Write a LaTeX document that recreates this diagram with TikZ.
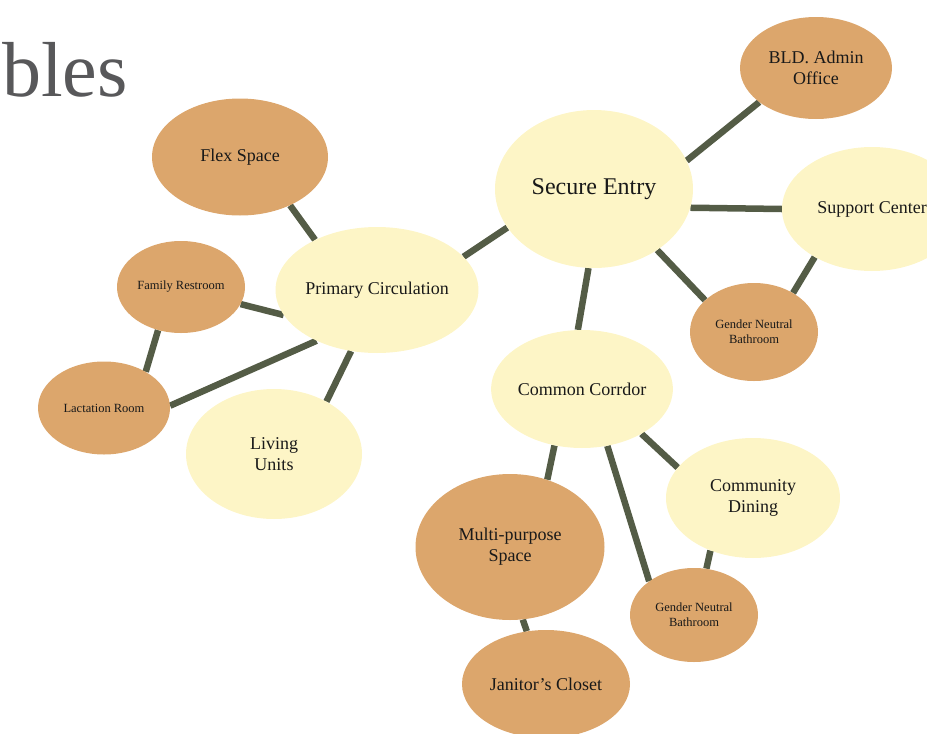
\documentclass[tikz,border=0pt]{standalone}
\usepackage{fontspec}
\setmainfont{Liberation Serif}
\usetikzlibrary{shapes.geometric,backgrounds}

\definecolor{blobtan}{HTML}{DCA66C}
\definecolor{blobcream}{HTML}{FDF5C6}
\definecolor{linkgreen}{HTML}{545C46}
\definecolor{titlegray}{HTML}{58585A}

\begin{document}
\begin{tikzpicture}
	[x=1pt,y=-1pt,
		tan node/.style={ellipse,fill=blobtan,inner sep=0pt,align=center,text=black!90},
		cream node/.style={ellipse,fill=blobcream,inner sep=0pt,align=center,text=black!90},
		big text/.style={font=\fontsize{18}{21}\selectfont},
		small text/.style={font=\fontsize{12.5}{15}\selectfont},
		link/.style={draw=linkgreen,line width=6.5pt}]

	\useasboundingbox (0,0) rectangle (927,734);

	\node[anchor=base west,text=titlegray,font=\fontsize{78}{80}\selectfont,inner sep=0pt] (title) at (2,96) {bles};

	% main spine
	\node[cream node,minimum width=198,minimum height=158,font=\fontsize{24}{28}\selectfont] (entry) at (594,189) {Secure Entry};
	\node[cream node,big text,minimum width=172,minimum height=126] (primary) at (377,290) {Primary Circulation};
	\node[cream node,big text,minimum width=175,minimum height=118] (corridor) at (582,389) {Common Corrdor};

	% around secure entry
	\node[tan node,big text,minimum width=152,minimum height=102] (admin) at (816,68) {BLD. Admin\\Office};
	\node[cream node,big text,minimum width=180,minimum height=124] (support) at (872,209) {Support Center};
	\node[tan node,small text,minimum width=128,minimum height=98] (gnbtop) at (754,332) {Gender Neutral\\Bathroom};

	% around primary circulation
	\node[tan node,big text,minimum width=176,minimum height=117] (flex) at (240,157) {Flex Space};
	\node[tan node,small text,minimum width=128,minimum height=92] (family) at (181,287) {Family Restroom};
	\node[tan node,small text,minimum width=132,minimum height=93] (lactation) at (104,408) {Lactation Room};
	\node[cream node,big text,minimum width=176,minimum height=130] (living) at (274,454) {Living\\Units};

	% around common corridor
	\node[cream node,big text,minimum width=174,minimum height=120] (dining) at (753,498) {Community\\Dining};
	\node[tan node,big text,minimum width=189,minimum height=146] (multi) at (510,547) {Multi-purpose\\Space};
	\node[tan node,small text,minimum width=128,minimum height=94] (gnbbottom) at (694,615) {Gender Neutral\\Bathroom};
	\node[tan node,big text,minimum width=168,minimum height=108] (janitor) at (546,684) {Janitor’s Closet};

	\begin{scope}[on background layer]
	\path[link]
	(entry.204) edge (primary.21)
	(entry.17) edge (admin.-149)
	(entry.-11) edge (support.180)
	(entry.-44) edge (gnbtop.147)
	(support.220) edge (gnbtop.45)
	(entry.-94) edge (corridor.94)
	(primary.141) edge (flex.-44)
	(primary.195) edge (family.-16)
	(primary.220) edge (lactation.2)
	(family.242) edge (lactation.41)
	(primary.247) edge (living.45)
	(corridor.244) edge (multi.61)
	(corridor.-66) edge (gnbbottom.143)
	(corridor.-37) edge (dining.158)
	(dining.231) edge (gnbbottom.75)
	(multi.-80) edge (janitor.110)
	;
	\end{scope}

\end{tikzpicture}
\end{document}
